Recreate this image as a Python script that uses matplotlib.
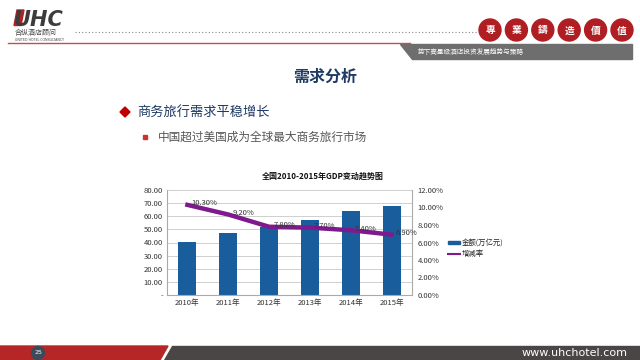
import matplotlib
matplotlib.use("Agg")
import matplotlib.pyplot as plt
from matplotlib.patches import Rectangle, Ellipse, Polygon
from matplotlib.lines import Line2D

plt.rcParams['font.family'] = ['Noto Sans CJK SC', 'DejaVu Sans']

# ---------------- data ----------------
years = ["2010年", "2011年", "2012年", "2013年", "2014年", "2015年"]
gdp = [40.15, 47.31, 51.94, 56.88, 63.65, 67.67]          # 万亿元
growth = [10.3, 9.2, 7.8, 7.7, 7.4, 6.9]                   # %
growth_labels = ["10.30%", "9.20%", "7.80%", "7.70%", "7.40%", "6.90%"]
left_ticks = [0, 10, 20, 30, 40, 50, 60, 70, 80]
right_ticks = [0, 2, 4, 6, 8, 10, 12]

W, H = 640, 360
fig = plt.figure(figsize=(6.4, 3.6), dpi=100)
fig.patch.set_facecolor("white")


def fx(x):
    return x / W


def fy(y):
    return 1 - y / H


def circ(cx, cy, r, color):
    # round in pixels, so width and height differ in figure units
    fig.patches.append(Ellipse((fx(cx), fy(cy)), 2 * r / W, 2 * r / H,
                               transform=fig.transFigure, color=color))


def poly(pts, color):
    fig.patches.append(Polygon([[fx(a), fy(b)] for a, b in pts], closed=True,
                               transform=fig.transFigure, color=color))


navy = "#1f3a63"
red = "#b22222"

# ---------------- header ----------------
fig.text(fx(14), fy(25.5), "UHC", fontsize=15, fontweight="heavy", style="italic",
         color="#3c3c3c", va="baseline", ha="left", family="DejaVu Sans")
poly([(17, 10), (24, 10), (21, 25.5), (14, 25.5)], red)
fig.text(fx(15), fy(33.5), "合纵酒店顾问", fontsize=5, color="#444444", va="center")
fig.text(fx(15), fy(40), "UNITED HOTEL CONSULTANCY", fontsize=2.3, color="#444444",
         va="center", family="DejaVu Sans")
fig.lines.append(Line2D([fx(75), fx(478)], [fy(32), fy(32)], transform=fig.transFigure,
                        color="#888888", lw=0.8, ls=(0, (1, 2))))
for i, ch in enumerate("專業鑄造價值"):
    cx = 490 + i * 26.4
    circ(cx, 30, 11, "#b01e23")
    fig.text(fx(cx), fy(30.5), ch, fontsize=7, fontweight="bold", color="white",
             ha="center", va="center")
fig.lines.append(Line2D([fx(8), fx(410)], [fy(43), fy(43)], transform=fig.transFigure,
                        color="#c0504d", lw=1.0))
poly([(400, 44), (632, 44), (632, 59), (412, 59)], "#6e6e6e")
fig.text(fx(418), fy(52), "势下高星级酒店投资发展趋势与策略", fontsize=4.8,
         color="white", va="center")

# ---------------- titles ----------------
fig.text(fx(325), fy(77), "需求分析", fontsize=11.5, color=navy, ha="center",
         va="center", fontweight="bold")
poly([(125, 107), (130, 112), (125, 117), (120, 112)], "#c00000")
fig.text(fx(137), fy(112), "商务旅行需求平稳增长", fontsize=9.5, color=navy, va="center")
fig.patches.append(Rectangle((fx(143), fy(139)), 4 / W, 4 / H,
                             transform=fig.transFigure, color="#d03030"))
fig.text(fx(158), fy(137), "中国超过美国成为全球最大商务旅行市场", fontsize=8.4,
         color="#555555", va="center")

# ---------------- chart ----------------
ax = fig.add_axes([fx(167), fy(295), (412 - 167) / W, (295 - 190) / H])
x = list(range(len(years)))
ax.bar(x, gdp, width=0.44, color="#1a5d9c", zorder=2)
ax.set_ylim(0, 80)
ax.set_yticks(left_ticks)
ax.set_yticklabels(["-"] + [f"{v:.2f}" for v in left_ticks[1:]])
ax.set_xlim(-0.5, len(years) - 0.5)
ax.set_xticks(x)
ax.set_xticklabels(years)
ax.grid(axis="y", color="#c8c8c8", lw=0.6, zorder=0)
for s in ["top", "right"]:
    ax.spines[s].set_visible(False)
ax.spines["left"].set_color("#aaaaaa")
ax.spines["bottom"].set_color("#aaaaaa")
ax.tick_params(labelsize=5.5, length=0, colors="#333333", pad=3)

ax2 = ax.twinx()
ax2.plot(x, growth, color="#7f1a8e", lw=3.2, zorder=3)
ax2.set_ylim(0, 12)
ax2.set_yticks(right_ticks)
ax2.set_yticklabels([f"{v:.2f}%" for v in right_ticks])
ax2.tick_params(labelsize=5.5, length=0, colors="#333333", pad=4)
for s in ["top", "left", "bottom"]:
    ax2.spines[s].set_visible(False)
ax2.spines["right"].set_color("#aaaaaa")
for xi, g, lab in zip(x, growth, growth_labels):
    ax2.annotate(lab, (xi, g), xytext=(3, 1), textcoords="offset points",
                 fontsize=5.5, color="#333333", ha="left", va="center", zorder=4)

fig.text(fx(323), fy(176), "全国2010-2015年GDP变动趋势图", fontsize=5.8,
         fontweight="bold", color="#111111", ha="center", va="center")

# legend
fig.patches.append(Rectangle((fx(448), fy(244)), 12 / W, 3.5 / H,
                             transform=fig.transFigure, color="#1a5d9c"))
fig.text(fx(462), fy(242.5), "金额(万亿元)", fontsize=5.3, color="#222222", va="center")
fig.lines.append(Line2D([fx(448), fx(460)], [fy(254), fy(254)], transform=fig.transFigure,
                        color="#7f1a8e", lw=1.5))
fig.text(fx(462), fy(254), "增减率", fontsize=5.3, color="#222222", va="center")

# ---------------- footer ----------------
poly([(0, 346), (168, 346), (160, 360), (0, 360)], "#b72626")
poly([(172, 346), (640, 346), (640, 360), (164, 360)], "#4a4646")
circ(38, 353, 6.5, "#3d4a5a")
fig.text(fx(38), fy(353), "25", fontsize=4.5, color="white", ha="center", va="center",
         family="DejaVu Sans")
fig.text(fx(628), fy(352.5), "www.uhchotel.com", fontsize=8, color="white",
         ha="right", va="center", family="DejaVu Sans")

fig.savefig("out.png", dpi=100)
